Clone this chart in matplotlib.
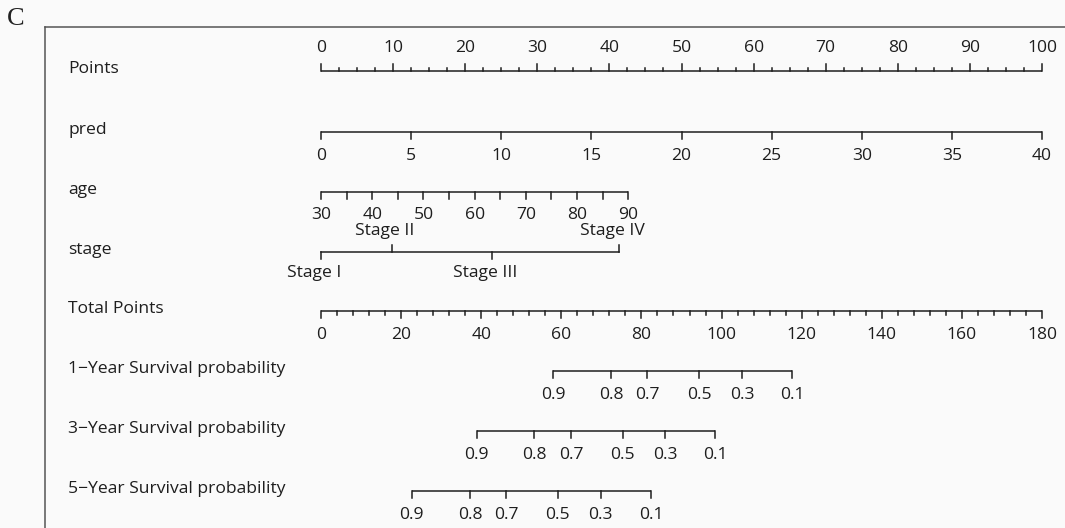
import matplotlib
matplotlib.use("Agg")
import matplotlib.pyplot as plt
import numpy as np

# nomogram data (positions, in "Points" units 0-100)
row_names = ["Points", "pred", "age", "stage", "Total Points",
             "1\u2212Year Survival probability",
             "3\u2212Year Survival probability",
             "5\u2212Year Survival probability"]

points_major = [0, 10, 20, 30, 40, 50, 60, 70, 80, 90, 100]
points_minor_step = 2.5

pred_values = [0, 5, 10, 15, 20, 25, 30, 35, 40]
pred_max_points = 100.0          # pred = 40 -> 100 points

age_ticks = [30, 35, 40, 45, 50, 55, 60, 65, 70, 75, 80, 85, 90]
age_labels = [30, 40, 50, 60, 70, 80, 90]
age_max_points = 42.6            # age = 90 -> 42.6 points

stage_names = ["Stage I", "Stage II", "Stage III", "Stage IV"]
stage_points = [0, 9.8, 23.7, 41.3]

total_labels = [0, 20, 40, 60, 80, 100, 120, 140, 160, 180]
total_minor_step = 4
total_max = 180

surv_probs = ["0.9", "0.8", "0.7", "0.5", "0.3", "0.1"]
surv_1y_total = [57.9, 72.4, 81.4, 94.4, 105.1, 117.7]
surv_3y_total = [38.9, 53.3, 62.4, 75.3, 85.9, 98.4]
surv_5y_total = [22.6, 37.2, 46.2, 59.1, 69.8, 82.4]

# layout (pixels)
W, H = 1065, 528
x0_px, px_per_pt = 321, 7.21
row_y = [71, 132, 192, 252, 311, 371, 431, 491]

FONT = "Open Sans"
fs = 12.6
lc = "#1e1e1e"
lw = 1.1
bg = "#fafafa"

fig = plt.figure(figsize=(W / 100, H / 100), dpi=100, facecolor=bg)
ax = fig.add_axes([0, 0, 1, 1])
ax.set_facecolor(bg)
ax.set_xlim(-x0_px / px_per_pt, (W - x0_px) / px_per_pt)
ax.set_ylim(H, 0)
ax.axis("off")

def px(x):
    return (x - x0_px) / px_per_pt

def draw_scale(y, pos, labels, lab_pos, minor=None, up=False, major_len=7, minor_len=3.5, lab_off=24):
    s = -1 if up else 1
    ax.plot([min(pos), max(pos)], [y, y], color=lc, lw=lw, solid_capstyle="butt")
    for p in pos:
        ax.plot([p, p], [y, y + s * major_len], color=lc, lw=lw)
    if minor is not None:
        for p in minor:
            ax.plot([p, p], [y, y + s * minor_len], color=lc, lw=lw)
    for p, l in zip(lab_pos, labels):
        ax.text(p, y + s * lab_off, str(l), ha="center", va="center",
                fontsize=fs, family=FONT, color=lc)

# Points
pm = [p for p in np.arange(0, 100.01, points_minor_step) if p not in points_major]
draw_scale(row_y[0], points_major, points_major, points_major, minor=pm, up=True, lab_off=23)

# pred
pred_pos = [v / max(pred_values) * pred_max_points for v in pred_values]
draw_scale(row_y[1], pred_pos, pred_values, pred_pos)

# age
def age_pt(a):
    return (a - age_ticks[0]) / (age_ticks[-1] - age_ticks[0]) * age_max_points
draw_scale(row_y[2], [age_pt(a) for a in age_ticks], age_labels,
           [age_pt(a) for a in age_labels], lab_off=23)

# stage
ys = row_y[3]
ax.plot([min(stage_points), max(stage_points)], [ys, ys], color=lc, lw=lw)
for i, (p, n) in enumerate(zip(stage_points, stage_names)):
    s = 1 if i % 2 == 0 else -1
    ax.plot([p, p], [ys, ys + s * 7], color=lc, lw=lw)
    ax.text(p - 0.9, ys + s * 21, n, ha="center", va="center", fontsize=fs, family=FONT, color=lc)

# Total Points
def tot_pt(t):
    return t / total_max * 100
tm = [tot_pt(t) for t in range(0, total_max + 1, total_minor_step) if t not in total_labels]
tl = [tot_pt(t) for t in total_labels]
draw_scale(row_y[4], tl, total_labels, tl, minor=tm, lab_off=24)

# survival axes
for y, tp in zip(row_y[5:], [surv_1y_total, surv_3y_total, surv_5y_total]):
    pp = [tot_pt(t) for t in tp]
    draw_scale(y, pp, surv_probs, pp, lab_off=24)

# row names
for y, n in zip(row_y, row_names):
    ax.text(px(68), y - 2, n, ha="left", va="center", fontsize=fs, family=FONT, color=lc)

# frame (only top and left visible)
ax.plot([px(45), px(W + 5)], [27, 27], color="#555555", lw=1.1)
ax.plot([px(45), px(45)], [27, H + 5], color="#555555", lw=1.1)

ax.text(px(7), 19, "C", ha="left", va="center", fontsize=19,
        family="Liberation Serif", color="#222222")

fig.savefig("out.png", dpi=100, facecolor=bg)
